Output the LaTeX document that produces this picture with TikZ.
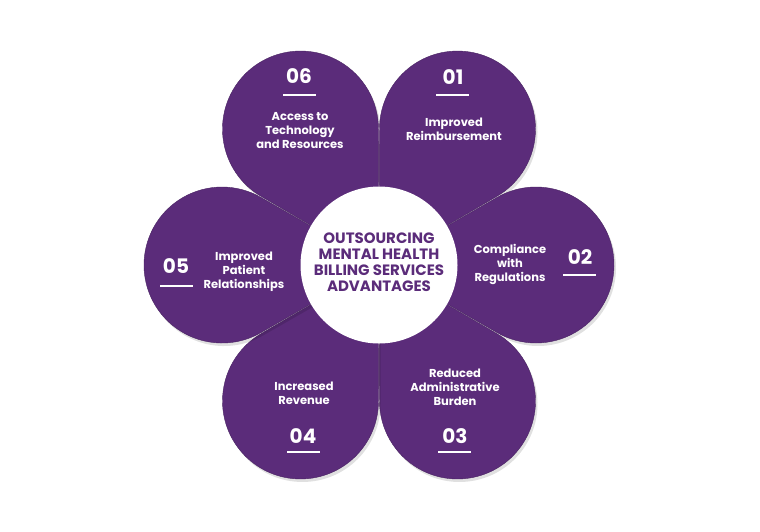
\documentclass[tikz,border=0pt]{standalone}
\usepackage{fontspec}
\setmainfont{Poppins}
\usetikzlibrary{calc}
\begin{document}
\begin{tikzpicture}[x=1pt,y=-1pt,
  petal/.style={fill=pur,draw=pur!80!black,line width=0.4pt},
  lbl/.style={text=white,font=\fontsize{11.5}{14}\selectfont\bfseries,align=center},
  num/.style={text=white,font=\fontsize{20}{22}\selectfont\bfseries},
  bar/.style={white,line width=1.8pt}]
\definecolor{pur}{HTML}{5B2C7A}
\useasboundingbox (0,0) rectangle (760,531);
\coordinate (O) at (379,265);
\foreach \ang in {-120,-60,0,60,120,180}{
  \pgfmathsetmacro{\th}{\ang+180}
  \begin{scope}[shift={(O)}]
  \fill[black,opacity=0.12] ($(2,3)+(0,0)$) -- ($(2,3)+(\ang:157)+(\th+60:78)$) arc[start angle=\th+60,end angle=\th+300,radius=78] -- cycle;
  \draw[petal] (0,0) -- ($(\ang:157)+(\th+60:78)$) arc[start angle=\th+60,end angle=\th+300,radius=78] -- cycle;
  \end{scope}
}
\node[circle,fill=white,minimum size=157pt,inner sep=0pt] (c) at (O) {};
\node[text=pur,font=\fontsize{15}{16}\selectfont\bfseries,align=center] (ct) at (379,262) {OUTSOURCING\\MENTAL HEALTH\\BILLING SERVICES\\ADVANTAGES};
\node[num] (n6) at (299,76) {06}; \draw[bar] (283,95) -- (316,95);
\node[lbl] (t6) at (300,131) {Access to\\Technology\\and Resources};
\node[num] (n1) at (453,77) {01}; \draw[bar] (436,95) -- (469,95);
\node[lbl] (t1) at (454,129) {Improved\\Reimbursement};
\node[num] (n2) at (580,257) {02}; \draw[bar] (563,275) -- (596,275);
\node[lbl] (t2) at (510,264) {Compliance\\with\\Regulations};
\node[num] (n3) at (455,436) {03}; \draw[bar] (438,452) -- (471,452);
\node[lbl] (t3) at (455,387) {Reduced\\Administrative\\Burden};
\node[num] (n4) at (303,436) {04}; \draw[bar] (287,452) -- (320,452);
\node[lbl] (t4) at (304,393) {Increased\\Revenue};
\node[num] (n5) at (176,266) {05}; \draw[bar] (160,286) -- (193,286);
\node[lbl] (t5) at (244,272) {Improved\\Patient\\Relationships};
\end{tikzpicture}
\end{document}
